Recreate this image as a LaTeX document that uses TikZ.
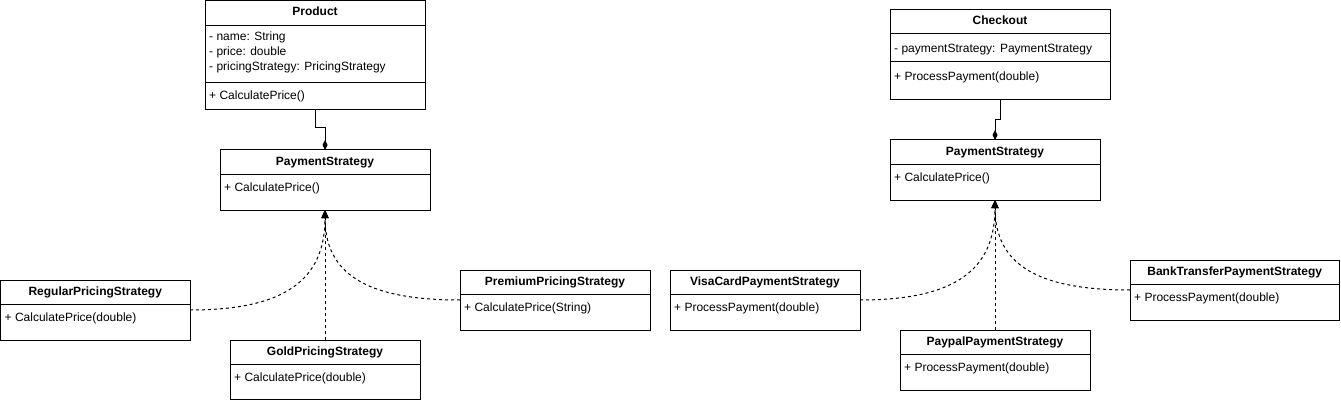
\documentclass[tikz,border=0pt]{standalone}
\usepackage{fontspec}
\setmainfont{Liberation Sans}
\usetikzlibrary{calc,arrows.meta}
\tikzset{
  classbox/.style={draw=black, line width=1pt, fill=white, inner sep=0pt, outer sep=0pt},
  divline/.style={draw=black, line width=1pt},
  titletext/.style={inner sep=0pt, font=\fontsize{12}{14}\selectfont\bfseries, text height=9pt, text depth=2.5pt},
  membertext/.style={inner sep=0pt, anchor=west, font=\fontsize{12}{14}\selectfont, text height=9pt, text depth=2.5pt},
  realize/.style={draw=black, line width=1pt, dash pattern=on 3pt off 3pt, -{Triangle[width=7pt,length=8pt]}},
  compose/.style={draw=black, line width=1pt, -{Diamond[width=5pt,length=10pt]}},
}
\newcommand\umlclass[7]{% name, x, y, w, h, title, title offset
  \node[classbox, minimum width=#4pt, minimum height=#5pt, anchor=north west] (#1) at (#2,#3) {};
  \node[titletext] (#1-title) at ($(#1.north)+(0,#7)$) {#6};
}
\newcommand\umldiv[2]{\draw[divline] ($(#1.north west)+(0,#2)$) -- ($(#1.north east)+(0,#2)$);}
\newcommand\umlline[3]{\node[membertext] (#1-l#2) at ($(#1.north west)+(4,#2)$) {#3};}
\begin{document}
\begin{tikzpicture}[x=1pt,y=-1pt]
\useasboundingbox (0,0) rectangle (1341,401);
% left diagram
\umlclass{product}{205}{0.5}{220}{109.5}{Product}{12}
\umldiv{product}{25}
\umlline{product}{37}{- name: String}
\umlline{product}{52}{- price: double}
\umlline{product}{67}{- pricingStrategy: PricingStrategy}
\umldiv{product}{82}
\umlline{product}{96}{+ CalculatePrice()}

\umlclass{psl}{220}{150}{210}{60}{PaymentStrategy}{12}
\umldiv{psl}{24}
\umlline{psl}{38}{+ CalculatePrice()}

\umlclass{regular}{0.5}{280}{189.5}{60}{RegularPricingStrategy}{12}
\umldiv{regular}{24}
\umlline{regular}{38}{+ CalculatePrice(double)}

\umlclass{gold}{230}{340}{190}{59.5}{GoldPricingStrategy}{12}
\umldiv{gold}{24}
\umlline{gold}{38}{+ CalculatePrice(double)}

\umlclass{premium}{460}{270}{190}{60}{PremiumPricingStrategy}{12}
\umldiv{premium}{24}
\umlline{premium}{38}{+ CalculatePrice(String)}

% right diagram
\umlclass{checkout}{890}{10}{220}{90}{Checkout}{11}
\umldiv{checkout}{24}
\umlline{checkout}{39}{- paymentStrategy: PaymentStrategy}
\umldiv{checkout}{52}
\umlline{checkout}{67}{+ ProcessPayment(double)}

\umlclass{psr}{890}{140}{210}{60}{PaymentStrategy}{12}
\umldiv{psr}{24}
\umlline{psr}{38}{+ CalculatePrice()}

\umlclass{visa}{670}{270}{190}{60}{VisaCardPaymentStrategy}{12}
\umldiv{visa}{24}
\umlline{visa}{38}{+ ProcessPayment(double)}

\umlclass{paypal}{900}{330}{190}{60}{PaypalPaymentStrategy}{12}
\umldiv{paypal}{24}
\umlline{paypal}{38}{+ ProcessPayment(double)}

\umlclass{bank}{1130}{260}{209.5}{60}{BankTransferPaymentStrategy}{12}
\umldiv{bank}{24}
\umlline{bank}{38}{+ ProcessPayment(double)}

% composition connectors
\draw[compose] (product.south) -- ++(0,18) -| (psl.north);
\draw[compose] (checkout.south) -- ++(0,20) -| (psr.north);

% realization connectors
\draw[realize] (regular.east) .. controls +(95,0) and +(0,70) .. (psl.south);
\draw[realize] (premium.west) .. controls +(-95,0) and +(0,63) .. (psl.south);
\draw[realize] (gold.north) -- (psl.south);
\draw[realize] (visa.east) .. controls +(95,0) and +(0,70) .. (psr.south);
\draw[realize] (bank.west) .. controls +(-95,0) and +(0,63) .. (psr.south);
\draw[realize] (paypal.north) -- (psr.south);
\end{tikzpicture}
\end{document}
